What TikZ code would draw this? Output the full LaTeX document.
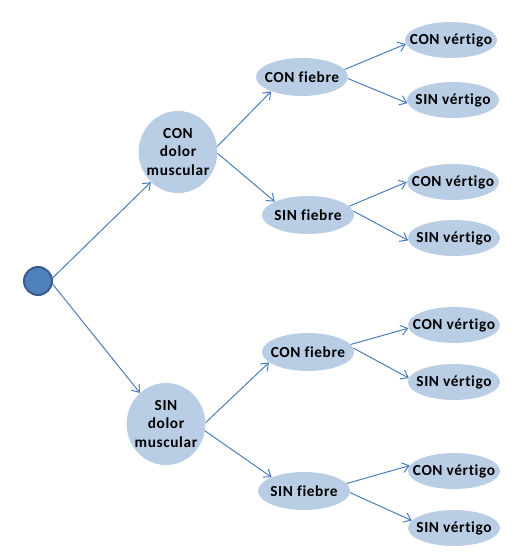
\documentclass[tikz,border=0pt]{standalone}
\usepackage{fontspec}
\setmainfont{Carlito}[LetterSpace=4,Ligatures=NoCommon]
\usetikzlibrary{arrows.meta,shapes.geometric}
\definecolor{OBlue}{HTML}{4F81BD}
\definecolor{ODark}{HTML}{385D8A}
\definecolor{OLight}{HTML}{B9CDE5}
\definecolor{OLine}{HTML}{4A7EBB}
\tikzset{
    root/.style = {circle, draw=ODark, fill=OBlue, line width=1.5pt,
        minimum size=21pt, inner sep=0pt},
    leaf/.style = {ellipse, fill=OLight, inner xsep=-8pt, inner ysep=-4pt,
        font=\bfseries\fontsize{11.5}{14}\selectfont, align=center},
    dolor/.style = {leaf, minimum width=59pt, minimum height=61.5pt},
    fiebre/.style = {leaf, minimum width=69pt, minimum height=28.5pt},
    vert/.style = {leaf, minimum width=69pt, minimum height=27pt},
    arrow/.style = {draw=OLine, line width=0.75pt,
        -{Straight Barb[length=5pt,width=7.5pt]}}
}
\begin{document}
\begin{tikzpicture}[x=0.75pt,y=-0.75pt]
            \useasboundingbox (0,0) rectangle (514,552);
            \node[root] (r) at (38,281) {};
            \node[dolor] (cdm) at (178,152) {CON\\dolor\\muscular};
            \node[dolor] (sdm) at (166,424) {SIN\\dolor\\muscular};
            \node[fiebre] (cf1) at (302,77) {CON fiebre};
            \node[fiebre] (sf1) at (308,215) {SIN fiebre};
            \node[fiebre] (cf2) at (308,352) {CON fiebre};
            \node[fiebre] (sf2) at (304,491) {SIN fiebre};
            \node[vert] (cv1) at (451,40) {CON vértigo};
            \node[vert] (sv1) at (453,100) {SIN vértigo};
            \node[vert] (cv2) at (453,182) {CON vértigo};
            \node[vert] (sv2) at (454,238) {SIN vértigo};
            \node[vert] (cv3) at (454,325) {CON vértigo};
            \node[vert] (sv3) at (454,382) {SIN vértigo};
            \node[vert] (cv4) at (454,471) {CON vértigo};
            \node[vert] (sv4) at (454,528) {SIN vértigo};
            \draw[arrow] (r.12) -- (cdm.228);
            \draw[arrow] (r.-12) -- (sdm.130);
            \draw[arrow] (cdm.8) -- (cf1.205);
            \draw[arrow] (cdm.-2) -- (sf1.158);
            \draw[arrow] (sdm.2) -- (cf2.195);
            \draw[arrow] (sdm.-10) -- (sf2.157);
            \draw[arrow] (cf1.10) -- (cv1.185);
            \draw[arrow] (cf1.-2) -- (sv1.184);
            \draw[arrow] (sf1.12) -- (cv2.180);
            \draw[arrow] (sf1.5) -- (sv2.183);
            \draw[arrow] (cf2.10) -- (cv3.184);
            \draw[arrow] (cf2.5) -- (sv3.175);
            \draw[arrow] (sf2.10) -- (cv4.173);
            \draw[arrow] (sf2.-2) -- (sv4.170);
            \end{tikzpicture}
\end{document}
